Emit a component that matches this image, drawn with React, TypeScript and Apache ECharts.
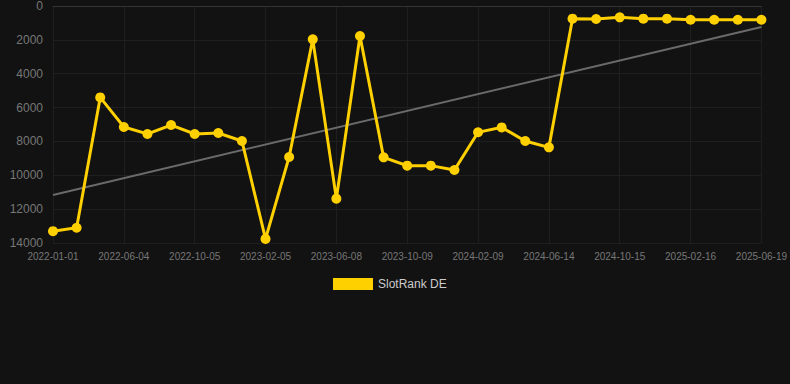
import React, { useEffect, useRef } from "react";
import * as echarts from "echarts";

const dates: string[] = [
  "2022-01-01", "2022-02-22", "2022-04-13", "2022-06-04", "2022-07-15", "2022-08-25",
  "2022-10-05", "2022-11-15", "2022-12-26", "2023-02-05", "2023-03-18", "2023-04-28",
  "2023-06-08", "2023-07-19", "2023-08-29", "2023-10-09", "2023-11-19", "2023-12-30",
  "2024-02-09", "2024-03-21", "2024-05-03", "2024-06-14", "2024-07-25", "2024-09-04",
  "2024-10-15", "2024-11-25", "2025-01-05", "2025-02-16", "2025-03-29", "2025-05-09",
  "2025-06-19",
];

const slotRankDE: number[] = [
  13300, 13100, 5400, 7150, 7560, 7030, 7560, 7500, 7975, 13760, 8920, 1970,
  11380, 1770, 8940, 9430, 9430, 9690, 7460, 7170, 7975, 8350, 750, 770,
  670, 750, 750, 810, 810, 810, 810,
];

const trendStart = 11160;
const trendEnd = 1240;

const yTicks = { min: 0, max: 14000, interval: 2000 };

export default function App() {
  const ref = useRef<HTMLDivElement>(null);
  useEffect(() => {
    if (!ref.current) return;
    const chart = echarts.init(ref.current, undefined, { renderer: "svg" });
    chart.setOption({
      animation: false,
      backgroundColor: "#121212",
      grid: { left: 53, right: 28, top: 6, bottom: 141 },
      legend: {
        top: 273,
        left: 328,
        itemWidth: 40,
        itemHeight: 12,
        itemGap: 10,
        icon: "rect",
        textStyle: { color: "#cccccc", fontSize: 12, fontFamily: "Arial, Liberation Sans, sans-serif" },
        data: ["SlotRank DE"],
      },
      xAxis: {
        type: "category",
        data: dates,
        boundaryGap: false,
        axisLine: { show: true, lineStyle: { color: "#333333" } },
        axisTick: { show: false },
        axisLabel: {
          interval: 2,
          color: "#777777",
          fontSize: 10,
          fontFamily: "Arial, Liberation Sans, sans-serif",
        },
        splitLine: { show: true, interval: 2, lineStyle: { color: "#1f1f1f" } },
      },
      yAxis: {
        type: "value",
        inverse: true,
        min: yTicks.min,
        max: yTicks.max,
        interval: yTicks.interval,
        axisLine: { show: false },
        axisTick: { show: false },
        axisLabel: {
          color: "#777777",
          fontSize: 12,
          margin: 10,
          fontFamily: "Arial, Liberation Sans, sans-serif",
          formatter: (v: number) => String(v),
        },
        splitLine: { show: true, lineStyle: { color: "#1f1f1f" } },
      },
      series: [
        {
          name: "SlotRank DE",
          type: "line",
          data: slotRankDE,
          symbol: "circle",
          symbolSize: 10,
          itemStyle: { color: "#FFD000" },
          lineStyle: { color: "#FFD000", width: 3, join: "miter", miterLimit: 10 },
          z: 3,
          markLine: {
            silent: true,
            symbol: "none",
            label: { show: false },
            lineStyle: { color: "#6a6a6a", width: 2, type: "solid" },
            data: [
              [
                { coord: [dates[0], trendStart] },
                { coord: [dates[dates.length - 1], trendEnd] },
              ],
            ],
            z: 1,
          },
        },
      ],
    });
    return () => chart.dispose();
  }, []);
  return (
    <div
      ref={ref}
      style={{ position: "fixed", left: 0, top: 0, width: 790, height: 384 }}
    />
  );
}
